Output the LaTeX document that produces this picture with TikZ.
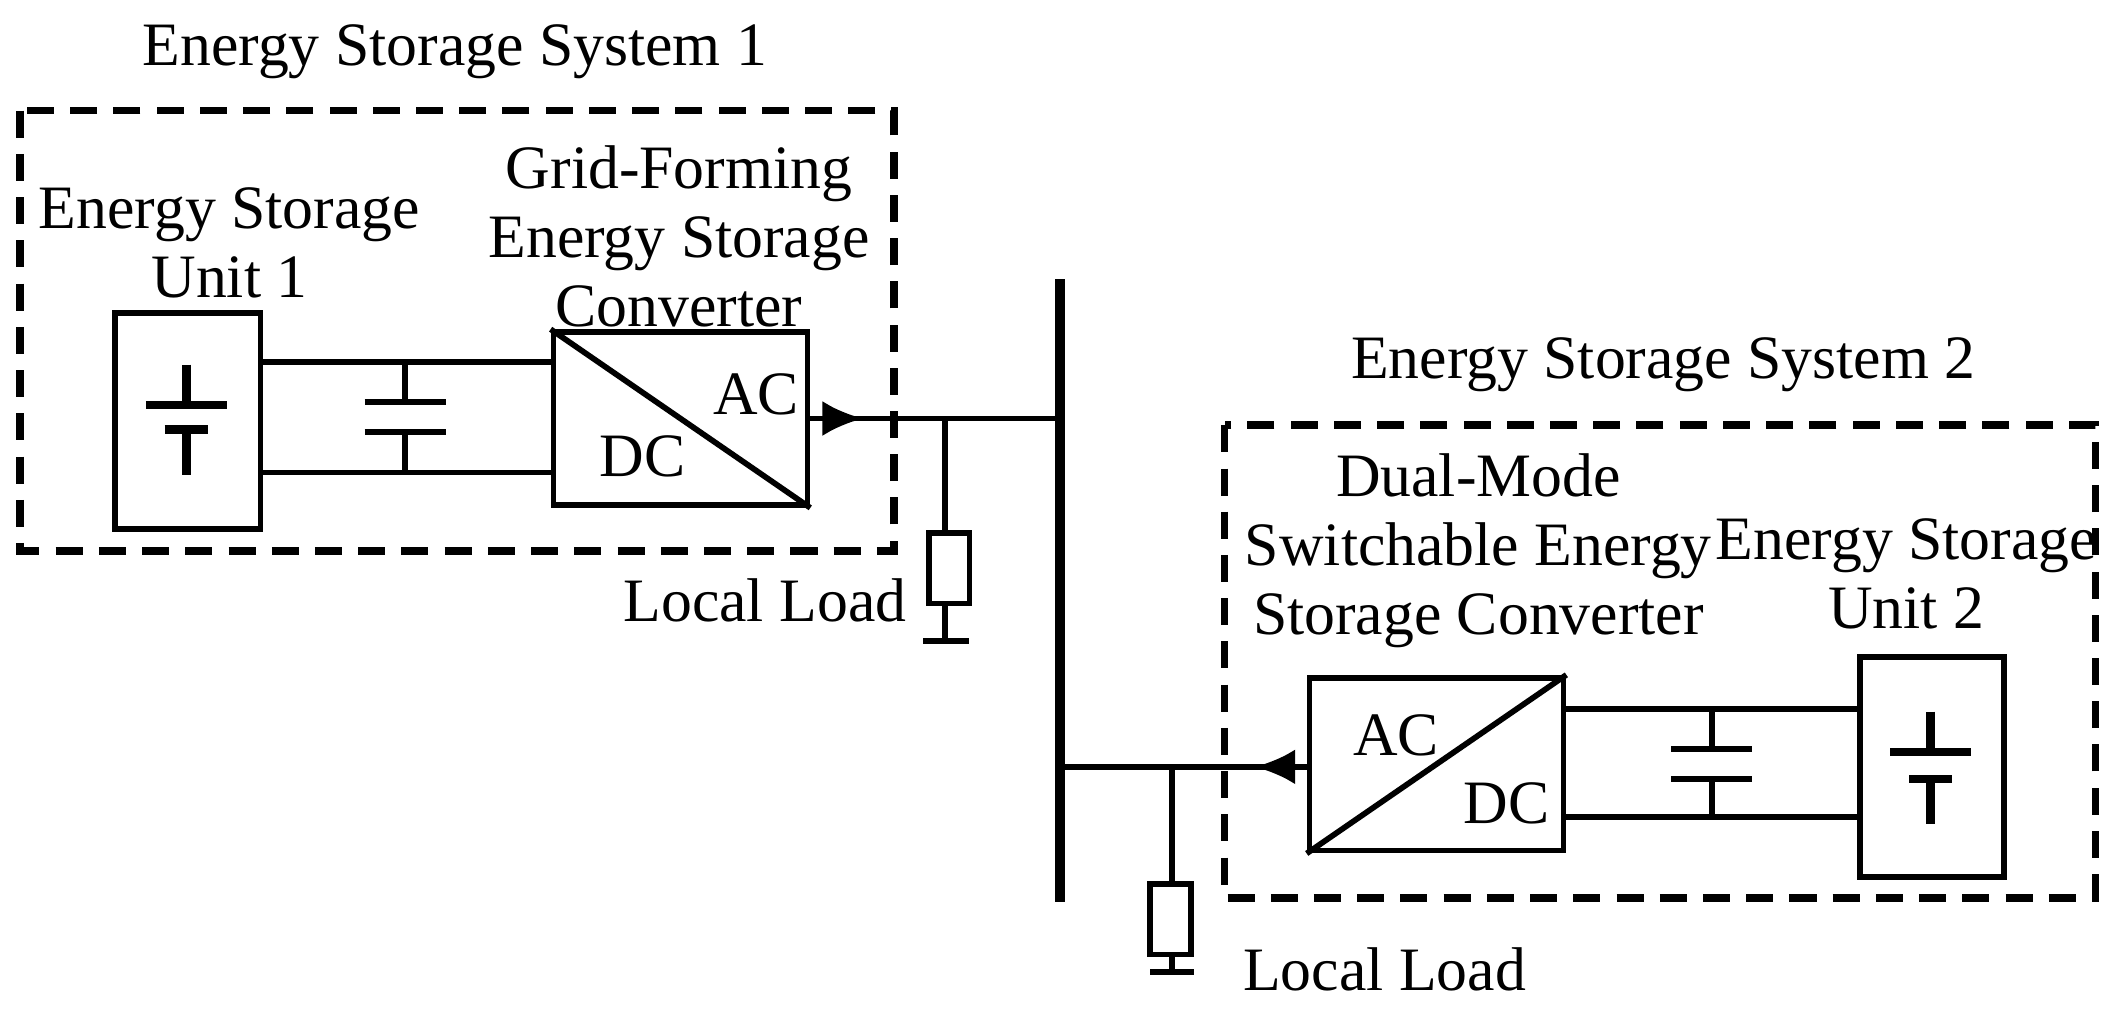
\documentclass[tikz,border=0pt]{standalone}
\usepackage{fontspec}
\setmainfont{Liberation Serif}
\usetikzlibrary{arrows.meta,decorations.markings}
\begin{document}
\begin{tikzpicture}[x=0.01cm,y=-0.01cm,
  w/.style={line width=1.2pt},
  bat/.style={line width=1.8pt},
  dbox/.style={line width=1.6pt,dash pattern=on 0.2cm off 0.12cm},
  lbl/.style={font=\fontsize{13}{14.5}\selectfont,align=center,inner sep=0pt},
  arr/.style={w,postaction={decorate},decoration={markings,mark=at position #1 with {\arrow{Latex[length=0.3cm,width=0.26cm]}}}}]
\useasboundingbox (0,0) rectangle (1568,752);
% ESS1
\draw[dbox] (15,82) rectangle (662,408);
\node[lbl] (t1) at (337,38) {Energy Storage System 1};
\node[w,draw,minimum width=1.08cm,minimum height=1.6cm,inner sep=0pt] (b1) at (139,312) {};
\draw[bat] (108,300)--(168,300) (122,318)--(154,318) (138,270)--(138,300) (138,318)--(138,352);
\node[lbl] (u1) at (170,180) {Energy Storage\\Unit 1};
\node[w,draw,minimum width=1.88cm,minimum height=1.28cm,inner sep=0pt] (c1) at (504,310) {};
\draw[w] (c1.north west)--(c1.south east);
\node[lbl] (ac1) at (560,292) {AC};
\node[lbl] (dc1) at (476,338) {DC};
\node[lbl] (g1) at (503,175) {Grid-Forming\\Energy Storage\\Converter};
\coordinate (p1) at (193,268); \coordinate (q1) at (410,268);
\coordinate (p2) at (193,350); \coordinate (q2) at (410,350);
\draw[w] (p1)--(q1) (p2)--(q2);
\draw[w] (300,268)--(300,298) (270,298)--(330,298) (270,320)--(330,320) (300,320)--(300,350);
% bus
\coordinate (bt) at (785,207); \coordinate (bb) at (785,668);
\draw[line width=2.2pt] (bt)--(bb);
\coordinate (o1) at (598,310); \coordinate (n1) at (785,310);
\draw[arr=0.22] (o1)--(n1);
% load 1
\draw[w] (700,310)--(700,395) (700,447)--(700,475) (684,475)--(718,475);
\node[w,draw,minimum width=0.3cm,minimum height=0.52cm,inner sep=0pt] (r1) at (703,421) {};
\node[lbl,anchor=east] (l1) at (672,445) {Local Load};
% ESS2
\draw[dbox] (907,315) rectangle (1552,665);
\node[lbl] (t2) at (1232,270) {Energy Storage System 2};
\node[w,draw,minimum width=1.88cm,minimum height=1.28cm,inner sep=0pt] (c2) at (1064,566) {};
\draw[w] (c2.south west)--(c2.north east);
\node[lbl] (ac2) at (1034,545) {AC};
\node[lbl] (dc2) at (1116,595) {DC};
\node[lbl] (g2) at (1095,408) {Dual-Mode\\Switchable Energy\\Storage Converter};
\coordinate (o2) at (970,568); \coordinate (n2) at (785,568);
\draw[arr=0.22] (o2)--(n2);
\draw[w] (1158,525)--(1378,525) (1158,605)--(1378,605);
\draw[w] (1268,525)--(1268,555) (1238,555)--(1298,555) (1238,577)--(1298,577) (1268,577)--(1268,605);
\node[w,draw,minimum width=1.07cm,minimum height=1.63cm,inner sep=0pt] (b2) at (1431,568) {};
\draw[bat] (1400,557)--(1460,557) (1414,577)--(1446,577) (1430,527)--(1430,557) (1430,577)--(1430,610);
\node[lbl] (u2) at (1412,425) {Energy Storage\\Unit 2};
% load 2
\draw[w] (868,568)--(868,655) (868,707)--(868,720) (852,720)--(884,720);
\node[w,draw,minimum width=0.3cm,minimum height=0.52cm,inner sep=0pt] (r2) at (867,681) {};
\node[lbl,anchor=west] (l2) at (920,718) {Local Load};
\end{tikzpicture}
\end{document}
